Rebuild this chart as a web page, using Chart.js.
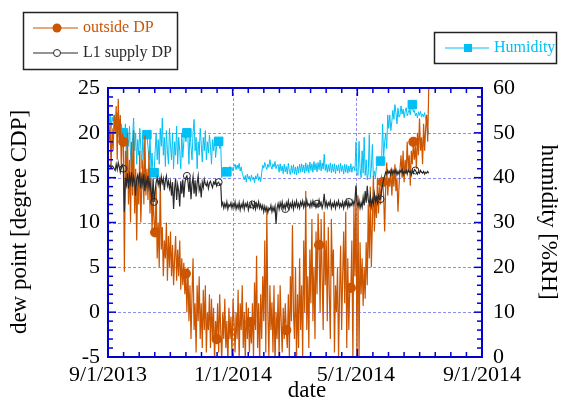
<!DOCTYPE html>
<html lang="en">
<head>
    <meta charset="UTF-8">
    <title>dew point and humidity</title>
    <style>
        body { margin: 0; background: #fff; }
        .container { width: 563px; height: 402px; }
    </style>
</head>
<body>
    <div class="container">
        <canvas id="myChart" width="563" height="402"></canvas>
    </div>
    <script src="https://cdn.jsdelivr.net/npm/chart.js"></script>
    <script>
        // one value per day, index 0 = 9/1/2013
        const outsideDP = [
            21.5, 19, 21, 16, 20.5, 18, 22, 20, 23, 17,
            23.8, 19, 22, 16, 20, 19, 4.5, 18, 14, 20,
            12, 17, 10, 19, 13, 20.3, 11, 16, 8, 15,
            12, 18, 10, 14, 17, 12, 19.7, 13, 16, 12.5,
            18, 11, 15, 9, 13, 10, 8.9, 14, 6, 10,
            5, 15, 7, 9.5, 4, 8, 6, 10, 3.5, 8.5,
            5, 9, 4, 7.5, 3, 6, 8.5, 3.5, 7, 4,
            8, 2.5, 6, 3, 5.5, 2, 4.3, 0, 5, -1,
            3, -3, 2, 6, -2, 1, -4.5, 3, -1, 4,
            -3, 1, -4, 2.5, -2, 3, -4.5, 0, -2, 2,
            -4, 1.5, -3, 0.5, -5.5, -1, -3, 1, -4.5, 2,
            -2, -5.5, 0, -3, 1.5, -4, -1, -6, 0.5, -3,
            -0.5, -5, 1.5, -1, -4.5, 0, -3, 2.5, -5.5, 1,
            -2, 3, -4, 0, -5.5, 1.1, -3, 0.5, -4.5, -1.1,
            -3.5, 1, -5, 3.3, -2, 6.3, -4, 1, -5.5, 2,
            -3, 4, -1, 8, -4.5, 11.5, 0, -5, 3, -2,
            1.1, -4.5, 3, -6, 0, -3, 2, -5, 3, -1,
            -4.5, 0.5, -3, 1, -2, -4, 2, -5, 4, -1,
            9.7, 0, -3, 5, -5.5, 2, -4, 6, -2, 3,
            -5, 8, 0, 13.5, -2, 4, -4, 7, 1, 10.4,
            -1, 5, -3, 9, 2, 11, 7.5, 0, 10.4, 4,
            -2, 11.2, 3, 8, -1, 9.5, 2, -3, 10.4, 4,
            7, -4.5, 3, 0, 5, -5, 2, 7.4, -2, 4,
            9, 1, 11.2, -4, 6, -2, 2.7, 2.7, 8, -5.5,
            12, 4, 14.1, -6, 13, -5.5, 7.8, 2, 6, 0.7,
            5, 1.5, 7.8, 3, 12, 6, 14, 5, 10, 15.2,
            9, 13, 10.5, 15, 11, 14, 12, 15, 14.5, 13,
            9, 14, 16.7, 13, 15, 14, 16, 13, 15.5, 14,
            16.5, 13.5, 15, 11.2, 14, 16, 17.5, 15, 18, 14.5,
            17, 15.5, 19, 16, 17.5, 14.1, 18, 16.5, 19, 17,
            18.5, 16, 20, 17.5, 21.6, 18, 19.5, 16.5, 21, 18,
            20.5, 22, 19, 24.9
        ];
        const supplyDP = [
            16.3, 16.2, 16.4, 16.1, 16.3, 16.2, 16, 15.8, 16.5, 15.9,
            16.7, 16.2, 15.6, 16.1, 16.4, 16, 11.2, 15, 14.2, 15.5,
            13.8, 15.2, 14.4, 15.6, 14, 15.1, 14.6, 13, 14.9, 15.3,
            14.5, 15.6, 13.8, 15.1, 14.2, 15.4, 13.5, 14.8, 14.1, 15.2,
            13.9, 14.6, 13.4, 12.3, 14.9, 12.3, 13.5, 14.5, 15, 14.2,
            14.8, 13.9, 15.1, 14.4, 14.9, 13.6, 14.7, 15.2, 14.1, 14.6,
            13.8, 14.5, 13, 14.5, 11.5, 13.8, 14.9, 12.5, 14.2, 13.5,
            11.8, 14.6, 13.2, 14.8, 12.8, 14.4, 15, 15.2, 14.6, 13.4,
            15, 12.6, 14.3, 15.1, 13.2, 14.7, 12.9, 14.4, 15.2, 13.6,
            14.1, 12.8, 14.5, 13.9, 14.8, 14.3, 14.1, 14.5, 13.8, 14.4,
            14.6, 14.2, 13.9, 14.5, 14.3, 14.7, 14.1, 14.4, 14.5, 14.2,
            14.3, 11.9, 12.2, 11.6, 12.1, 11.7, 12.3, 11.5, 12, 11.8,
            12.2, 11.6, 12.1, 11.7, 12.3, 11.5, 12, 11.6, 12.2, 11.4,
            12, 11.7, 12.3, 11.5, 12.1, 11.8, 12.2, 11.4, 11.9, 11.7,
            12.3, 12, 11.6, 12.2, 11.5, 12.1, 11.7, 12.3, 11.6, 12,
            11.5, 11.9, 11.2, 11.8, 11.3, 11.7, 11.1, 11.6, 11.4, 11.9,
            11.2, 11.7, 11.3, 11.8, 9.85, 11.6, 12.1, 11.5, 12.2, 11.7,
            12.3, 11.6, 12, 11.5, 12.2, 11.8, 12.4, 11.6, 12.1, 11.7,
            12.3, 11.5, 12.2, 11.8, 12.4, 11.7, 12.1, 11.6, 12.3, 11.9,
            12.4, 11.7, 12.2, 11.8, 12.5, 11.9, 12.1, 11.7, 12.3, 11.8,
            12.4, 11.9, 12.2, 11.7, 12.1, 11.8, 12.5, 11.9, 12.2, 11.6,
            12.1, 13.2, 11.8, 12.3, 11.7, 12.2, 11.9, 12.4, 11.6, 12.1,
            11.8, 12.3, 11.6, 12.2, 11.9, 12.4, 11.7, 12.1, 11.8, 12.3,
            11.6, 12.2, 11.9, 12.4, 11.7, 12.3, 11.8, 12.1, 11.9, 12.4,
            12, 12.5, 14.1, 12.3, 11.8, 12.4, 11.6, 12.2, 11.7, 12.8,
            11.9, 13.5, 12.2, 14.1, 12.5, 12, 13, 11.8, 12.6, 12.1,
            13.2, 12.3, 12.8, 12.2, 13, 12.6, 12.6, 13.5, 14.2, 14.8,
            15.2, 15.6, 15.4, 15.8, 15.5, 15.7, 15.3, 15.9, 15.4, 15.8,
            15.5, 15.9, 15.3, 15.7, 15.4, 15.8, 15.6, 15.9, 15.3, 15.7,
            15.5, 15.8, 15.4, 15.9, 15.6, 15.7, 15.3, 15.8, 15.5, 15.9,
            15.8, 15.6, 15.4, 15.7, 15.5, 15.8, 15.6, 15.5, 15.7, 15.4,
            15.6, 15.5, 15.7, 15.5
        ];
        const humidity = [
            54.8, 52, 54, 51, 53.5, 52.5, 54, 53, 50, 54.5,
            51, 53, 48, 52, 50.5, 50, 48, 52, 44, 50,
            47, 51.5, 45, 41.5, 49, 53.3, 46, 50, 43, 48.5,
            45, 51, 47, 42, 49.6, 44, 48, 50.5, 49.6, 47,
            44, 49, 42, 45.5, 40.5, 41.1, 46, 50, 44, 48.5,
            43, 51, 47, 53.3, 45, 49, 42.5, 50.5, 46, 43,
            51, 47, 44, 50, 42, 48, 45, 51.5, 43, 49,
            46, 42, 50, 44.5, 48, 51, 48, 50, 49, 43,
            51, 47, 44, 50, 53, 46, 49, 42, 48, 45,
            51, 47.5, 43.5, 49, 46, 50.5, 44, 48, 45.5, 49.5,
            47, 43, 48.5, 46, 49, 44.5, 47, 47.5, 48.1, 46.5,
            47.5, 40, 41.5, 42, 41.3, 42.2, 41.3, 42, 41.2, 42.5,
            41.8, 42.3, 41.5, 42.5, 43, 41.8, 42.8, 42, 43.2, 41.5,
            42.4, 41, 40.2, 39.5, 40.5, 39, 40.8, 39.8, 40.3, 39.2,
            40.6, 39.6, 40.1, 38.9, 40.4, 39.7, 40.9, 39.4, 40.2, 39.1,
            41, 42.8, 42.1, 43.4, 42.5, 41.8, 43, 42.3, 44, 42.6,
            41.9, 43.1, 42.4, 43.6, 42, 42.8, 42.9, 41.2, 43.1, 41.5,
            42.6, 40.9, 43, 41.3, 42.5, 40.8, 43.2, 41.4, 40.7, 42.7,
            41.1, 42.9, 40.8, 42.4, 40.6, 42.6, 41, 43, 41.2, 43.1,
            41.3, 42.8, 41, 43.3, 41.4, 42.9, 41.1, 43.5, 41.6, 43.1,
            41.2, 43.6, 41.7, 43.2, 41.3, 43.4, 41.8, 43.9, 41.5, 43.3,
            41.9, 45.2, 41.6, 43, 41.2, 42.9, 41.4, 43.3, 41.1, 43,
            41.3, 43.1, 40.9, 42.8, 41.5, 42.9, 41, 43.2, 41.4, 42.7,
            40.8, 43, 41.2, 42.9, 41, 42.6, 41.3, 43.1, 41.2, 42.5,
            42.4, 41.5, 48, 41, 40.5, 48.1, 42, 40, 46, 41,
            49, 40.5, 44, 39.5, 41, 49.6, 40, 42, 47.4, 39.8,
            41.5, 40, 42.5, 43, 43.5, 42.8, 43.7, 44, 52, 44.5,
            48, 50, 46.5, 54, 51, 54, 50.5, 52.5, 55, 53,
            56.3, 54.5, 52, 55.5, 53.5, 54, 56, 54.2, 55.3, 53.4,
            54.8, 55.6, 53.8, 54.5, 55.2, 54, 55.8, 56.3, 54.6, 55,
            53.8, 54.4, 53.3, 54.7, 53.9, 54.8, 53.5, 54.2, 53.6, 54.5,
            53.2, 52, 51, 49.6
        ];

        // days that carry a marker symbol
        const outsideMarks = [15, 46, 76, 106, 139, 174, 206, 237, 268, 298];
        const supplyMarks = [15, 45, 77, 108, 141, 173, 204, 235, 266, 300];
        const humidityMarks = [15, 38, 45, 77, 108, 116, 266, 297];

        const xTickDays = [0, 122, 242, 365];
        const xTickLabels = ['9/1/2013', '1/1/2014', '5/1/2014', '9/1/2014'];
        const xGridDays = [122, 242];
        const dewTicks = [-5, 0, 5, 10, 15, 20, 25];
        const humTicks = [0, 10, 20, 30, 40, 50, 60];

        const SERIF = '"Liberation Serif", "Times New Roman", serif';
        const BLUE = '#0000cc';
        const ORANGE = '#cc5500';
        const CYAN = '#00bff5';
        const DARK = '#2a2a2a';

        Chart.defaults.font.family = SERIF;

        const toPoints = arr => arr.map((v, i) => ({ x: i, y: v }));

        function line(ctx, x1, y1, x2, y2) {
            ctx.beginPath();
            ctx.moveTo(x1, y1);
            ctx.lineTo(x2, y2);
            ctx.stroke();
        }

        const frame = {
            id: 'frame',
            beforeDatasetsDraw(chart) {
                const { ctx, chartArea: a, scales } = chart;
                ctx.save();
                ctx.strokeStyle = '#8f8ff2';
                ctx.lineWidth = 1;
                ctx.setLineDash([3, 2]);
                dewTicks.slice(1, -1).forEach(v => {
                    const py = Math.round(scales.y.getPixelForValue(v)) + 0.5;
                    line(ctx, a.left, py, a.right, py);
                });
                xGridDays.forEach(d => {
                    const px = Math.round(scales.x.getPixelForValue(d)) + 0.5;
                    line(ctx, px, a.top, px, a.bottom);
                });
                ctx.restore();
            },
            afterDatasetsDraw(chart) {
                const { ctx, chartArea: a, scales } = chart;
                ctx.save();
                ctx.strokeStyle = BLUE;
                ctx.lineWidth = 1.5;
                // x ticks, 8 per major interval, on top and bottom
                for (let k = 0; k <= 24; k++) {
                    const px = scales.x.getPixelForValue(k * 365 / 24);
                    const len = k % 8 === 0 ? 8 : 5;
                    line(ctx, px, a.bottom, px, a.bottom - len);
                    line(ctx, px, a.top, px, a.top + len);
                }
                // left ticks every 1 degree, right ticks every 2 %RH
                for (let v = -5; v <= 25; v++) {
                    const py = scales.y.getPixelForValue(v);
                    line(ctx, a.left, py, a.left + (v % 5 === 0 ? 8 : 5), py);
                }
                for (let h = 0; h <= 60; h += 2) {
                    const py = scales.y1.getPixelForValue(h);
                    line(ctx, a.right, py, a.right - (h % 10 === 0 ? 8 : 5), py);
                }
                ctx.lineWidth = 2;
                ctx.strokeRect(a.left, a.top, a.right - a.left, a.bottom - a.top);
                ctx.restore();
            },
            afterDraw(chart) {
                const { ctx } = chart;
                ctx.save();
                // axis titles
                ctx.fillStyle = '#000';
                ctx.font = '23px ' + SERIF;
                ctx.textAlign = 'center';
                ctx.textBaseline = 'middle';
                ctx.fillText('date', 307, 391);
                ctx.save();
                ctx.translate(20, 222);
                ctx.rotate(-Math.PI / 2);
                ctx.fillText('dew point [degree CDP]', 0, 0);
                ctx.restore();
                ctx.save();
                ctx.translate(548, 222);
                ctx.rotate(Math.PI / 2);
                ctx.fillText('humidity [%RH]', 0, 0);
                ctx.restore();

                // legend boxes
                ctx.strokeStyle = '#222';
                ctx.lineWidth = 1.5;
                ctx.strokeRect(23.5, 12.5, 154, 57);
                ctx.strokeRect(434.5, 32.5, 122, 31);
                ctx.font = '16px ' + SERIF;
                ctx.textAlign = 'left';
                ctx.lineWidth = 1;

                ctx.strokeStyle = ORANGE;
                line(ctx, 33, 28, 78, 28);
                ctx.fillStyle = ORANGE;
                ctx.beginPath();
                ctx.arc(57, 28, 4.5, 0, Math.PI * 2);
                ctx.fill();
                ctx.fillText('outside DP', 83, 28);

                ctx.strokeStyle = DARK;
                line(ctx, 33, 53, 78, 53);
                ctx.fillStyle = '#fff';
                ctx.beginPath();
                ctx.arc(57, 53, 3.5, 0, Math.PI * 2);
                ctx.fill();
                ctx.stroke();
                ctx.fillStyle = DARK;
                ctx.fillText('L1 supply DP', 83, 53);

                ctx.strokeStyle = CYAN;
                line(ctx, 445, 48, 489, 48);
                ctx.fillStyle = CYAN;
                ctx.fillRect(464, 44, 8, 8);
                ctx.fillText('Humidity', 494, 48);
                ctx.restore();
            }
        };

        const tickFont = { family: SERIF, size: 22 };

        const config = {
            type: 'line',
            data: {
                datasets: [
                    {
                        label: 'L1 supply DP',
                        data: toPoints(supplyDP),
                        yAxisID: 'y',
                        borderColor: DARK,
                        borderWidth: 1.2,
                        pointStyle: 'circle',
                        pointRadius: c => supplyMarks.includes(c.dataIndex) ? 3.5 : 0,
                        pointBackgroundColor: 'rgba(255,255,255,0)',
                        pointBorderColor: DARK,
                        pointBorderWidth: 1,
                        order: 0
                    },
                    {
                        label: 'outside DP',
                        data: toPoints(outsideDP),
                        yAxisID: 'y',
                        borderColor: ORANGE,
                        borderWidth: 1.2,
                        pointRadius: c => outsideMarks.includes(c.dataIndex) ? 4.5 : 0,
                        pointBackgroundColor: ORANGE,
                        pointBorderColor: ORANGE,
                        order: 1
                    },
                    {
                        label: 'Humidity',
                        data: toPoints(humidity),
                        yAxisID: 'y1',
                        borderColor: CYAN,
                        borderWidth: 1,
                        pointStyle: 'rect',
                        pointRadius: c => humidityMarks.includes(c.dataIndex) ? 6 : 0,
                        pointBackgroundColor: CYAN,
                        pointBorderColor: CYAN,
                        order: 2
                    }
                ]
            },
            plugins: [frame],
            options: {
                responsive: false,
                animation: false,
                events: [],
                layout: { padding: { top: 88, left: 0, right: 0, bottom: 0 } },
                plugins: {
                    legend: { display: false },
                    tooltip: { enabled: false }
                },
                scales: {
                    x: {
                        type: 'linear',
                        min: 0,
                        max: 365,
                        afterBuildTicks: s => { s.ticks = xTickDays.map(v => ({ value: v })); },
                        afterFit: s => { s.height = 45; },
                        ticks: {
                            callback: (v, i) => xTickLabels[i],
                            font: tickFont,
                            color: '#000',
                            padding: 5,
                            maxRotation: 0,
                            autoSkip: false
                        },
                        grid: { display: false, drawTicks: false },
                        border: { display: false }
                    },
                    y: {
                        position: 'left',
                        min: -5,
                        max: 25,
                        afterBuildTicks: s => { s.ticks = dewTicks.map(v => ({ value: v })); },
                        afterFit: s => { s.width = 108; },
                        ticks: { font: tickFont, color: '#000', padding: 8 },
                        grid: { display: false, drawTicks: false },
                        border: { display: false }
                    },
                    y1: {
                        position: 'right',
                        min: 0,
                        max: 60,
                        afterBuildTicks: s => { s.ticks = humTicks.map(v => ({ value: v })); },
                        afterFit: s => { s.width = 81; },
                        ticks: { font: tickFont, color: '#000', padding: 11 },
                        grid: { display: false, drawTicks: false },
                        border: { display: false }
                    }
                }
            }
        };

        new Chart(document.querySelector('#myChart').getContext('2d'), config);
    </script>
</body>
</html>
